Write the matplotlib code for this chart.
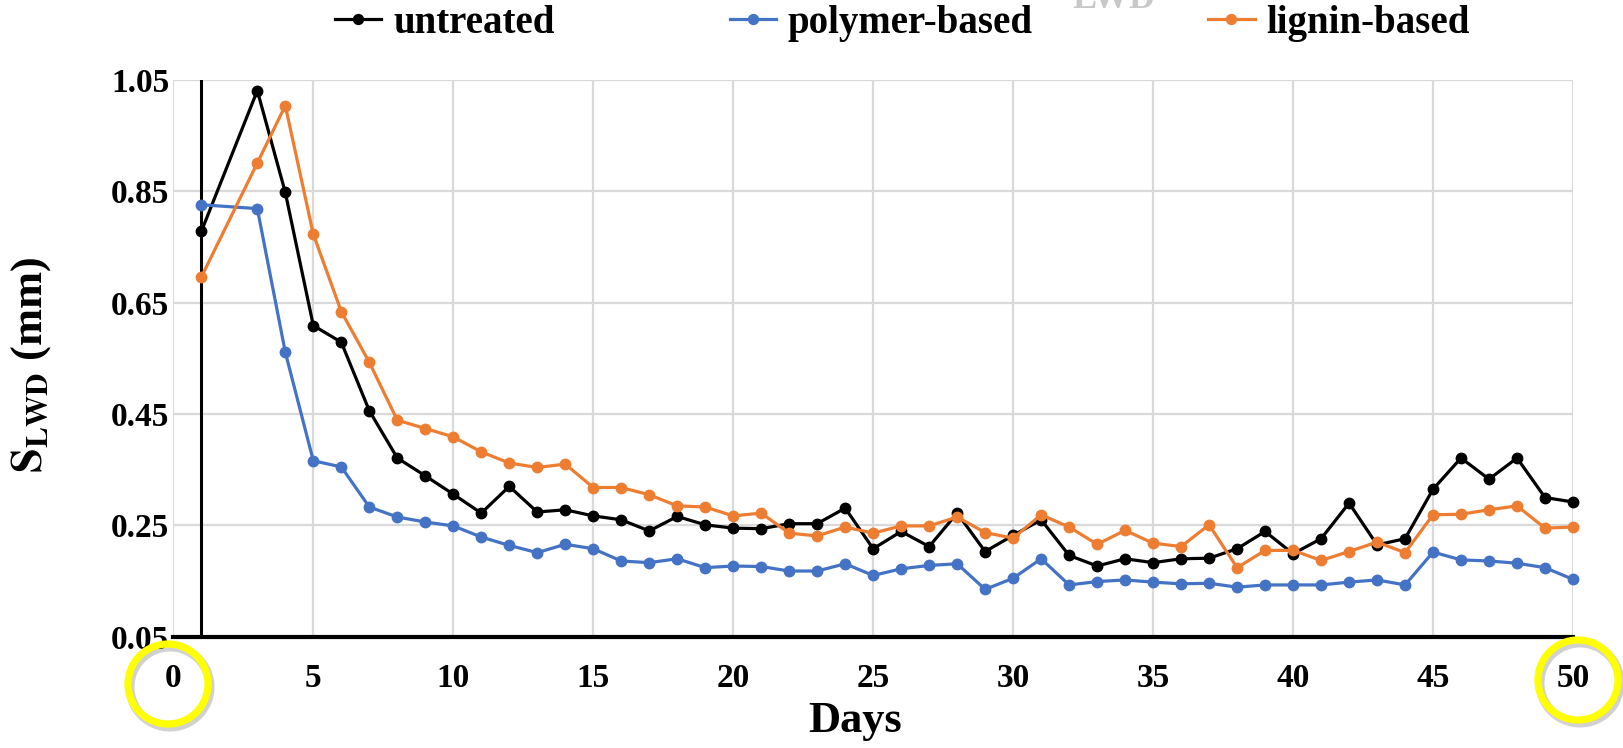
import matplotlib
matplotlib.use("Agg")
import matplotlib.pyplot as plt
from matplotlib.patches import Ellipse

plt.rcParams['font.family'] = ['Liberation Serif', 'DejaVu Serif']
plt.rcParams['font.weight'] = 'bold'
plt.rcParams['mathtext.fontset'] = 'stix'

days = [1] + list(range(3, 51))
untreated = [0.778, 1.031, 0.848, 0.609, 0.579, 0.456, 0.371, 0.339, 0.306, 0.272,
             0.320, 0.274, 0.278, 0.267, 0.260, 0.240, 0.266, 0.251, 0.245, 0.244,
             0.253, 0.253, 0.281, 0.208, 0.239, 0.212, 0.272, 0.203, 0.232, 0.260,
             0.196, 0.177, 0.190, 0.183, 0.190, 0.191, 0.208, 0.239, 0.199, 0.226,
             0.290, 0.215, 0.226, 0.315, 0.371, 0.333, 0.371, 0.300, 0.292]
polymer = [0.826, 0.819, 0.561, 0.366, 0.355, 0.283, 0.265, 0.256, 0.249, 0.229,
           0.214, 0.201, 0.216, 0.208, 0.186, 0.183, 0.190, 0.174, 0.177, 0.176,
           0.168, 0.168, 0.181, 0.160, 0.172, 0.178, 0.181, 0.135, 0.155, 0.190,
           0.143, 0.149, 0.152, 0.148, 0.145, 0.146, 0.139, 0.143, 0.143, 0.143,
           0.148, 0.152, 0.143, 0.202, 0.188, 0.186, 0.182, 0.174, 0.153]
lignin = [0.696, 0.901, 1.004, 0.773, 0.634, 0.543, 0.439, 0.424, 0.409, 0.382,
          0.362, 0.354, 0.360, 0.318, 0.318, 0.305, 0.285, 0.283, 0.267, 0.272,
          0.236, 0.231, 0.247, 0.236, 0.249, 0.249, 0.265, 0.237, 0.227, 0.269,
          0.247, 0.216, 0.241, 0.218, 0.212, 0.251, 0.174, 0.205, 0.205, 0.187,
          0.203, 0.220, 0.201, 0.269, 0.270, 0.278, 0.285, 0.245, 0.247]
series_names = ['untreated', 'polymer-based', 'lignin-based']
series_colors = ['#000000', '#4472C4', '#ED7D31']
x_ticks = [0, 5, 10, 15, 20, 25, 30, 35, 40, 45, 50]
y_ticks = [0.05, 0.25, 0.45, 0.65, 0.85, 1.05]

fig = plt.figure(figsize=(16.23, 7.48), dpi=100)
ax = fig.add_axes([0.1068, 0.1488, 0.8624, 0.7442])

for vals, name, col in zip([untreated, polymer, lignin], series_names, series_colors):
    ax.plot(days, vals, color=col, lw=2.3, marker='o', markersize=7.5,
            label=name, clip_on=False, zorder=3)

ax.axvline(1, color='black', lw=2.2, zorder=2)

ax.set_xlim(0, 50)
ax.set_ylim(0.05, 1.05)
ax.set_xticks(x_ticks)
ax.set_yticks(y_ticks)
ax.set_yticklabels([f"{v:.2f}" for v in y_ticks])
ax.tick_params(axis='x', length=0, pad=19, labelsize=24)
ax.tick_params(axis='y', length=0, pad=3, labelsize=24)
ax.grid(True, color='#d9d9d9', lw=1.6)
ax.set_axisbelow(True)
for s in ['left', 'top', 'right']:
    ax.spines[s].set_visible(False)
ax.spines['bottom'].set_color('black')
ax.spines['bottom'].set_linewidth(3)
ax.spines['bottom'].set_zorder(4)

fig.text(0.527, 0.036, 'Days', ha='center', va='center', fontsize=32, fontweight='bold')
fig.text(0.019, 0.513, r'$\mathbf{S_{LWD}}$ (mm)', rotation=90, ha='center',
         va='center', fontsize=32, fontweight='bold')

# faint cut-off title at the very top
fig.text(0.686, 1.0, 'LWD', ha='center', va='center', fontsize=26,
         fontweight='bold', color='#c8c8c8')

fig.legend(loc='upper center', bbox_to_anchor=(0.556, 1.04), ncol=3, frameon=False,
           fontsize=28, handlelength=1.2, handletextpad=0.3, columnspacing=4.5,
           markerscale=0.95)

# yellow highlight circles around the 0 and 50 labels
for cx, cy, d in [(168, 684, 80), (1578, 680, 80)]:
    fx, fy = cx / 1623, 1 - cy / 748
    shadow = Ellipse((fx + 2 / 1623, fy - 3 / 748), d / 1623, d / 748,
                     transform=fig.transFigure, fill=False, ec='#000000',
                     alpha=0.18, lw=6.5)
    ring = Ellipse((fx, fy), d / 1623, d / 748, transform=fig.transFigure,
                   fill=False, ec='#FFFF00', lw=5.2)
    fig.add_artist(shadow)
    fig.add_artist(ring)

fig.savefig('out.png', dpi=100)
